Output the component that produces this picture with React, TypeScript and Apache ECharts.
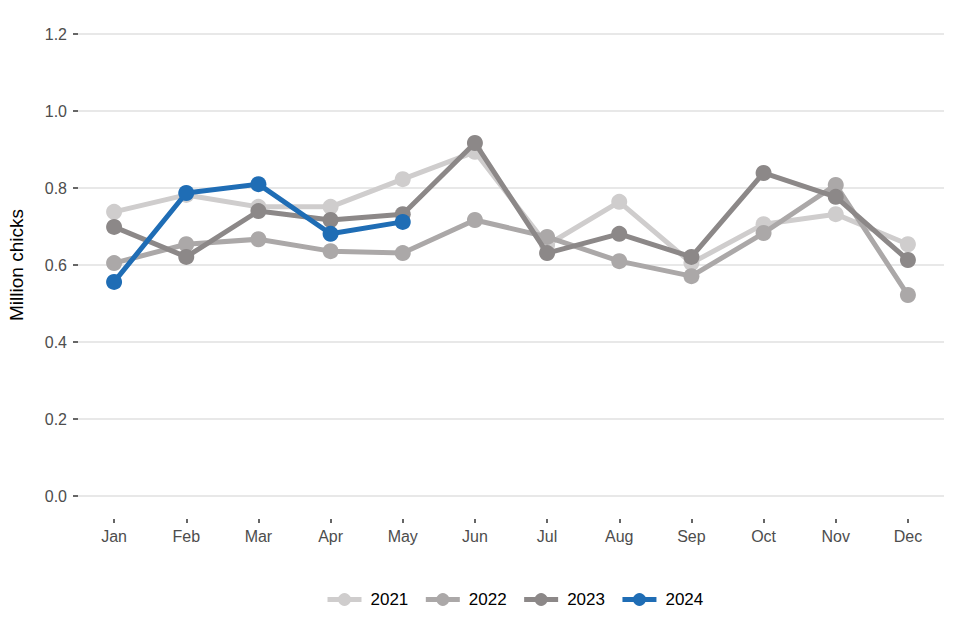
import React, { useEffect, useRef } from "react";
import * as echarts from "echarts";

const months = ["Jan", "Feb", "Mar", "Apr", "May", "Jun", "Jul", "Aug", "Sep", "Oct", "Nov", "Dec"];
const years = ["2021", "2022", "2023", "2024"];
const v2021 = [0.738, 0.782, 0.751, 0.751, 0.823, 0.894, 0.652, 0.764, 0.605, 0.706, 0.732, 0.654];
const v2022 = [0.605, 0.654, 0.667, 0.636, 0.631, 0.717, 0.673, 0.61, 0.571, 0.683, 0.808, 0.522];
const v2023 = [0.699, 0.621, 0.74, 0.717, 0.732, 0.917, 0.631, 0.681, 0.621, 0.839, 0.777, 0.613];
const v2024 = [0.556, 0.787, 0.81, 0.681, 0.712];
const colors = ["#cfcdcd", "#aba8a8", "#8c8888", "#1f6db5"];

export default function App() {
  const ref = useRef<HTMLDivElement>(null);
  useEffect(() => {
    const chart = echarts.init(ref.current!, null, { renderer: "svg" });
    const data = [v2021, v2022, v2023, v2024];
    chart.setOption({
      animation: false,
      textStyle: { fontFamily: "Liberation Sans, Arial, sans-serif" },
      grid: [
        { left: 78, right: 16, top: 34, bottom: 144, containLabel: false, outerBoundsMode: "none" },
        { left: 78, right: 16, top: 34, bottom: 121, containLabel: false, outerBoundsMode: "none" },
      ],
      legend: {
        bottom: 27,
        left: 320,
        itemWidth: 34,
        itemHeight: 16,
        itemGap: 15,
        lineStyle: { width: 5 },
        textStyle: { fontSize: 17, color: "#000", padding: [0, 0, 0, 4] },
        data: years,
      },
      xAxis: [
        {
          type: "category",
          gridIndex: 0,
          data: months,
          boundaryGap: true,
          show: false,
        },
        {
          type: "category",
          gridIndex: 1,
          data: months,
          boundaryGap: true,
          axisLine: { show: false },
          axisTick: { show: true, alignWithLabel: true, length: 4, lineStyle: { color: "#333", width: 1.5 } },
          axisLabel: { color: "#4d4d4d", fontSize: 16, margin: 9 },
          splitLine: { show: false },
        },
      ],
      yAxis: [
        {
          type: "value",
          gridIndex: 0,
          min: 0,
          max: 1.2,
          interval: 0.2,
          name: "Million chicks",
          nameLocation: "middle",
          nameGap: 52,
          nameTextStyle: { fontSize: 19, color: "#000" },
          axisLine: { show: false },
          axisTick: { show: true, length: 5, lineStyle: { color: "#333", width: 1.5 } },
          axisLabel: {
            color: "#4d4d4d",
            fontSize: 16,
            margin: 11,
            formatter: (v: number) => v.toFixed(1),
          },
          splitLine: { lineStyle: { color: "#e8e8e8", width: 2 } },
        },
        {
          type: "value",
          gridIndex: 1,
          show: false,
          splitLine: { show: false },
        },
      ],
      series: years.map((y, i) => ({
        name: y,
        type: "line",
        xAxisIndex: 0,
        yAxisIndex: 0,
        data: data[i],
        symbol: "circle",
        symbolSize: 16,
        lineStyle: { width: 5, color: colors[i] },
        itemStyle: { color: colors[i] },
        z: 2 + i,
      })),
    });
    return () => chart.dispose();
  }, []);
  return (
    <div
      ref={ref}
      style={{ position: "absolute", left: 0, top: 0, width: 960, height: 640 }}
    />
  );
}
